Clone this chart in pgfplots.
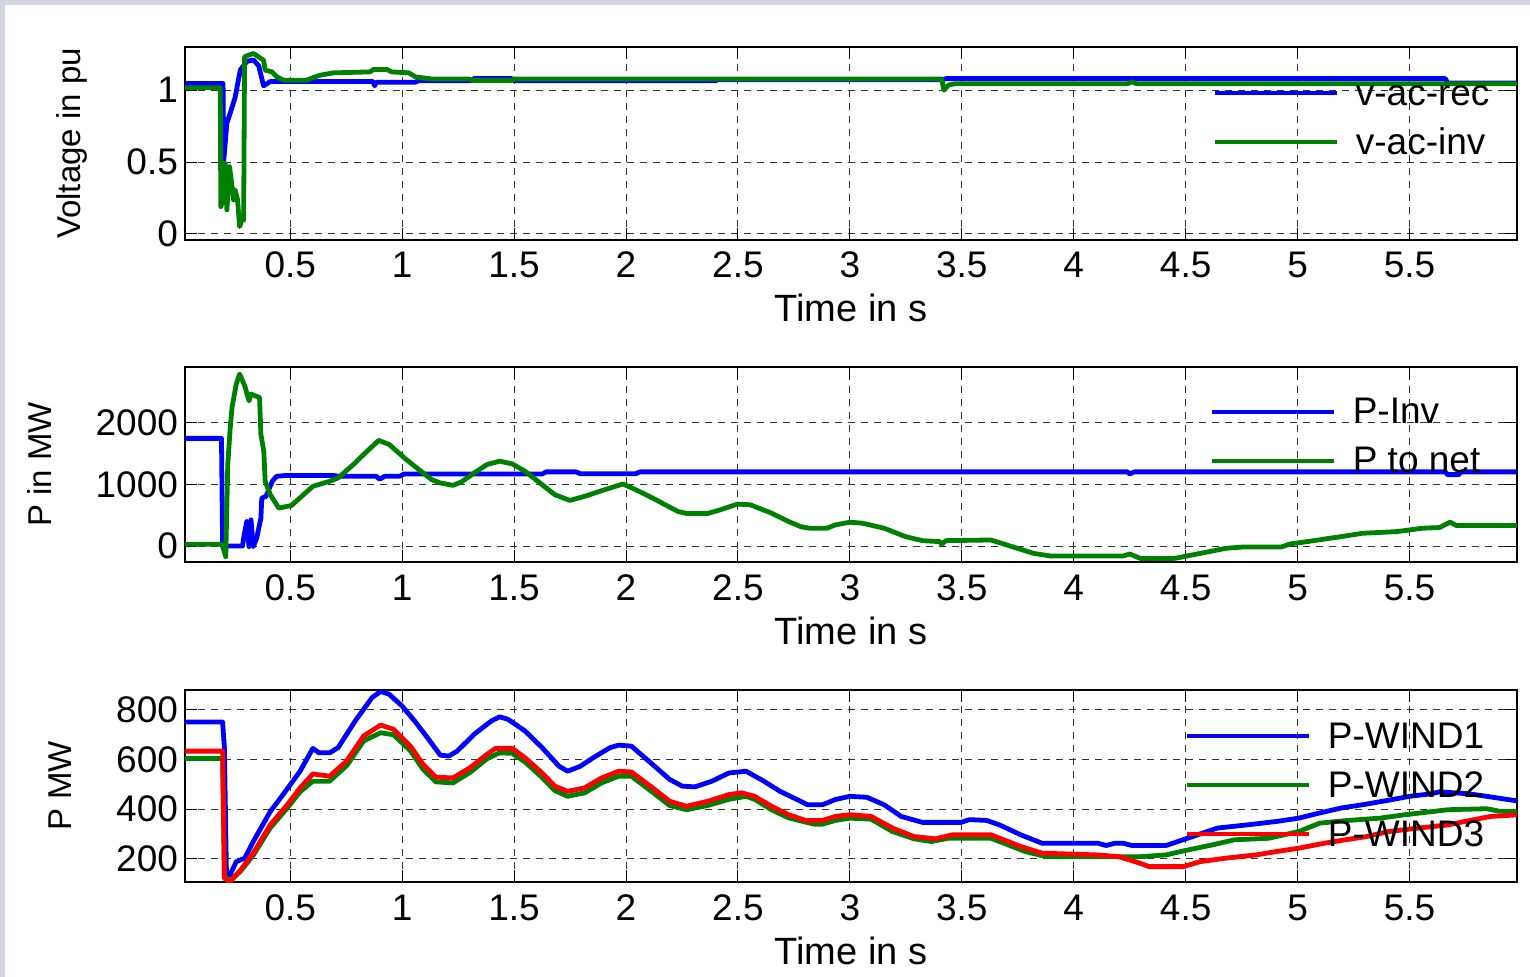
\documentclass[border=0pt]{standalone}
\usepackage{fontspec}
\setmainfont{Liberation Sans}
\usepackage{pgfplots}
\pgfplotsset{compat=1.18}
\definecolor{mblue}{RGB}{0,0,255}
\definecolor{mgreen}{RGB}{0,128,0}
\definecolor{mred}{RGB}{255,0,0}
\definecolor{bggray}{RGB}{211,215,224}
\pgfplotsset{
 mystyle/.style={
  scale only axis, width=666pt,
  xmin=0.03, xmax=5.98,
  xtick={0.5,1,1.5,2,2.5,3,3.5,4,4.5,5,5.5},
  xticklabels={0.5,1,1.5,2,2.5,3,3.5,4,4.5,5,5.5},
  grid=major,
  major grid style={line width=0.5pt, black!80, dash pattern=on 3.5pt off 3pt},
  axis line style={line width=0.75pt},
  tick align=inside, major tick length=6pt,
  tick style={line width=0.5pt, black},
  tick label style={font=\fontsize{18.5}{22}\selectfont},
  xticklabel style={anchor=base, yshift=-19pt},
  xlabel={Time in s},
  xlabel style={at={(axis description cs:0.5,0)}, anchor=base, yshift=-41pt, font=\fontsize{19}{22}\selectfont},
  ylabel style={font=\fontsize{16.5}{20}\selectfont, anchor=center},
  legend style={draw=none, fill=none, inner sep=0pt, outer sep=0pt,
    font=\fontsize{18.5}{22}\selectfont,
    nodes={inner sep=0pt, text height=16pt, text depth=4pt},
    row sep=4.5pt,
    /tikz/every odd column/.append style={column sep=8pt}},
  legend cell align=left,
  legend image code/.code={\draw[#1, line width=2.4pt] (0pt,0pt) -- (61pt,0pt);},
  every axis plot/.append style={line width=2.4pt, line join=round},
 }
}
\begin{document}
\begin{tikzpicture}
\fill[bggray] (0,0) rectangle (765pt,-488.5pt);
\fill[white] (2.5pt,-2.5pt) rectangle (765pt,-488.5pt);
\useasboundingbox (0,0) rectangle (765pt,-488.5pt);

% ---------------- Panel 1 ----------------
\begin{axis}[mystyle, at={(92.5pt,-23.5pt)}, anchor=north west, height=96.5pt,
  ymin=-0.042, ymax=1.3, ytick={0,0.5,1}, yticklabels={0,0.5,1},
  ylabel={Voltage in pu}, ylabel style={at={(axis description cs:-0.0848,0.5)}},
  legend style={at={(axis description cs:0.7718,0.865)}, anchor=north west}]
\addplot[mblue] coordinates {
(0.03,1.046)(0.200,1.046)(0.203,0.51)(0.217,0.77)(0.232,0.84)(0.254,0.95)
(0.277,1.14)(0.307,1.20)(0.336,1.21)(0.359,1.17)(0.381,1.03)(0.411,1.06)
(0.44,1.06)(0.87,1.06)(0.877,1.03)(0.885,1.055)(1.06,1.055)(1.07,1.065)
(1.31,1.065)(1.32,1.08)(1.49,1.08)(1.50,1.065)(2.40,1.065)(2.41,1.072)
(3.41,1.072)(3.43,1.08)(5.66,1.08)(5.67,1.05)(5.98,1.05)};
\addlegendentry{v-ac-rec}
\addplot[mgreen] coordinates {
(0.03,1.016)(0.1875,1.016)(0.190,0.19)(0.195,0.213)(0.202,0.49)(0.210,0.49)
(0.217,0.167)(0.229,0.468)(0.240,0.33)(0.247,0.236)(0.254,0.306)(0.265,0.236)
(0.274,0.051)(0.284,0.097)(0.292,0.097)(0.296,1.231)(0.314,1.243)(0.336,1.255)
(0.359,1.231)(0.381,1.208)(0.388,1.139)(0.418,1.127)(0.44,1.093)(0.47,1.069)
(0.574,1.069)(0.604,1.088)(0.634,1.104)(0.693,1.120)(0.857,1.127)(0.872,1.144)
(0.932,1.144)(0.954,1.127)(1.03,1.12)(1.06,1.092)(1.13,1.078)(1.30,1.078)
(1.31,1.068)(1.49,1.068)(1.50,1.078)(3.41,1.078)(3.42,1.0)(3.44,1.035)
(3.47,1.045)(4.24,1.045)(4.26,1.058)(4.28,1.045)(5.98,1.045)};
\addlegendentry{v-ac-inv}
\end{axis}

% ---------------- Panel 2 ----------------
\begin{axis}[mystyle, at={(92.5pt,-183.5pt)}, anchor=north west, height=97.5pt,
  ymin=-260, ymax=2910, ytick={0,1000,2000}, yticklabels={0,1000,2000},
  ylabel={P in MW}, ylabel style={at={(axis description cs:-0.1089,0.5)}},
  legend style={at={(axis description cs:0.7695,0.872)}, anchor=north west}]
\addplot[mblue] coordinates {
(0.03,1750)(0.193,1750)(0.198,0)(0.287,0)(0.293,153)(0.306,398)(0.316,-11)
(0.325,425)(0.335,-11)(0.350,125)(0.369,452)(0.373,779)(0.392,807)(0.420,1052)
(0.439,1134)(0.477,1145)(0.695,1145)(0.714,1135)(0.885,1135)(0.895,1095)
(0.904,1095)(0.923,1135)(0.990,1135)(1.009,1170)(1.625,1170)(1.644,1205)
(1.777,1205)(1.796,1175)(2.043,1175)(2.062,1205)(4.24,1205)(4.25,1170)
(4.27,1205)(5.66,1205)(5.67,1160)(5.72,1160)(5.73,1205)(5.98,1205)};
\addlegendentry{P-Inv}
\addplot[mgreen] coordinates {
(0.03,30)(0.193,30)(0.198,0)(0.212,-174)(0.221,1324)(0.231,1869)(0.240,2250)
(0.259,2632)(0.274,2796)(0.287,2687)(0.297,2600)(0.316,2360)(0.325,2470)
(0.344,2440)(0.363,2414)(0.369,1815)(0.382,1542)(0.388,1052)(0.411,834)
(0.430,725)(0.449,616)(0.506,660)(0.601,970)(0.676,1052)(0.714,1106)
(0.790,1351)(0.828,1488)(0.895,1717)(0.942,1651)(1.018,1406)(1.065,1270)
(1.132,1079)(1.170,1025)(1.227,986)(1.265,1041)(1.322,1188)(1.379,1324)
(1.435,1379)(1.492,1335)(1.549,1215)(1.625,997)(1.682,834)(1.749,741)
(1.815,807)(1.891,899)(1.986,1008)(2.043,916)(2.119,779)(2.232,561)
(2.270,529)(2.365,529)(2.422,589)(2.498,681)(2.555,670)(2.650,534)
(2.726,398)(2.783,311)(2.821,289)(2.897,289)(2.935,343)(3.0,387)(3.057,370)
(3.153,289)(3.248,153)(3.324,87)(3.401,71)(3.410,27)(3.429,87)(3.630,98)
(3.725,-11)(3.821,-120)(3.897,-163)(4.221,-163)(4.250,-130)(4.298,-202)
(4.450,-202)(4.527,-147)(4.603,-93)(4.679,-38)(4.756,-16)(4.927,-16)
(4.966,33)(5.042,71)(5.195,153)(5.290,207)(5.443,234)(5.557,289)(5.634,300)
(5.681,387)(5.710,332)(5.98,332)};
\addlegendentry{P to net}
\end{axis}

% ---------------- Panel 3 ----------------
\begin{axis}[mystyle, at={(92.5pt,-345pt)}, anchor=north west, height=96pt,
  ymin=107, ymax=880, ytick={200,400,600,800}, yticklabels={200,400,600,800},
  ylabel={P MW}, ylabel style={at={(axis description cs:-0.0938,0.5)}},
  legend style={at={(axis description cs:0.7508,0.8646)}, anchor=north west}]
\addplot[mblue] coordinates {
(0.03,751)(0.198,751)(0.206,648)(0.215,149)(0.231,135)(0.259,189)(0.297,203)
(0.335,270)(0.411,391)(0.468,459)(0.544,553)(0.601,645)(0.629,627)(0.676,627)
(0.714,648)(0.790,755)(0.866,850)(0.904,874)(0.942,863)(0.999,816)(1.056,755)
(1.113,688)(1.170,618)(1.208,614)(1.246,634)(1.322,702)(1.398,755)(1.435,772)
(1.473,762)(1.549,715)(1.625,648)(1.701,573)(1.739,553)(1.796,573)(1.853,607)
(1.929,648)(1.967,658)(2.024,654)(2.119,580)(2.195,520)(2.251,493)(2.308,490)
(2.384,513)(2.460,546)(2.536,553)(2.612,515)(2.688,472)(2.764,439)(2.811,418)
(2.878,418)(2.935,439)(3.0,452)(3.076,448)(3.153,418)(3.229,371)(3.324,347)
(3.496,347)(3.534,358)(3.611,355)(3.668,337)(3.763,297)(3.859,263)(4.107,263)
(4.145,254)(4.183,263)(4.221,263)(4.260,254)(4.412,254)(4.508,283)(4.641,324)
(4.775,337)(4.908,351)(5.004,364)(5.099,385)(5.195,405)(5.290,418)(5.405,436)
(5.500,452)(5.595,462)(5.634,470)(5.767,462)(5.844,452)(5.939,439)(5.992,432)};
\addlegendentry{P-WIND1}
\addplot[mgreen] coordinates {
(0.03,604)(0.198,604)(0.206,130)(0.231,112)(0.278,150)(0.335,215)(0.411,325)
(0.487,405)(0.544,470)(0.601,513)(0.676,513)(0.752,575)(0.828,675)(0.904,708)
(0.961,700)(1.037,635)(1.094,560)(1.151,510)(1.227,506)(1.303,548)(1.379,603)
(1.435,627)(1.492,625)(1.549,590)(1.625,528)(1.682,475)(1.739,452)(1.815,466)
(1.891,506)(1.967,533)(2.024,533)(2.119,468)(2.195,415)(2.270,398)(2.365,415)
(2.460,440)(2.536,452)(2.574,440)(2.650,398)(2.726,365)(2.840,340)(2.878,340)
(2.935,355)(3.0,364)(3.095,360)(3.191,310)(3.286,281)(3.363,270)(3.439,283)
(3.630,283)(3.706,257)(3.782,230)(3.878,209)(4.145,209)(4.298,209)(4.412,216)
(4.489,232)(4.622,257)(4.718,277)(4.870,283)(5.004,310)(5.099,344)(5.214,354)
(5.366,364)(5.481,378)(5.672,398)(5.844,402)(5.901,392)(5.992,392)};
\addlegendentry{P-WIND2}
\addplot[mred] coordinates {
(0.03,634)(0.198,634)(0.206,122)(0.231,108)(0.278,155)(0.335,223)(0.411,337)
(0.487,418)(0.544,486)(0.601,542)(0.676,533)(0.752,594)(0.828,695)(0.904,739)
(0.961,722)(1.037,654)(1.094,580)(1.151,529)(1.227,526)(1.303,567)(1.379,621)
(1.417,645)(1.492,645)(1.549,607)(1.625,546)(1.682,493)(1.739,472)(1.815,486)
(1.891,526)(1.967,553)(2.024,550)(2.119,486)(2.195,432)(2.270,412)(2.365,432)
(2.460,459)(2.517,466)(2.574,452)(2.650,412)(2.726,378)(2.802,355)(2.878,355)
(2.935,371)(3.0,378)(3.095,371)(3.191,324)(3.286,290)(3.382,281)(3.458,297)
(3.630,297)(3.687,277)(3.763,250)(3.859,223)(4.107,216)(4.202,209)(4.298,182)
(4.336,169)(4.489,169)(4.565,189)(4.679,203)(4.813,216)(4.908,230)(5.004,243)
(5.118,263)(5.214,277)(5.309,290)(5.405,310)(5.538,324)(5.672,337)(5.786,358)
(5.863,371)(5.992,378)};
\addlegendentry{P-WIND3}
\end{axis}
\end{tikzpicture}
\end{document}
